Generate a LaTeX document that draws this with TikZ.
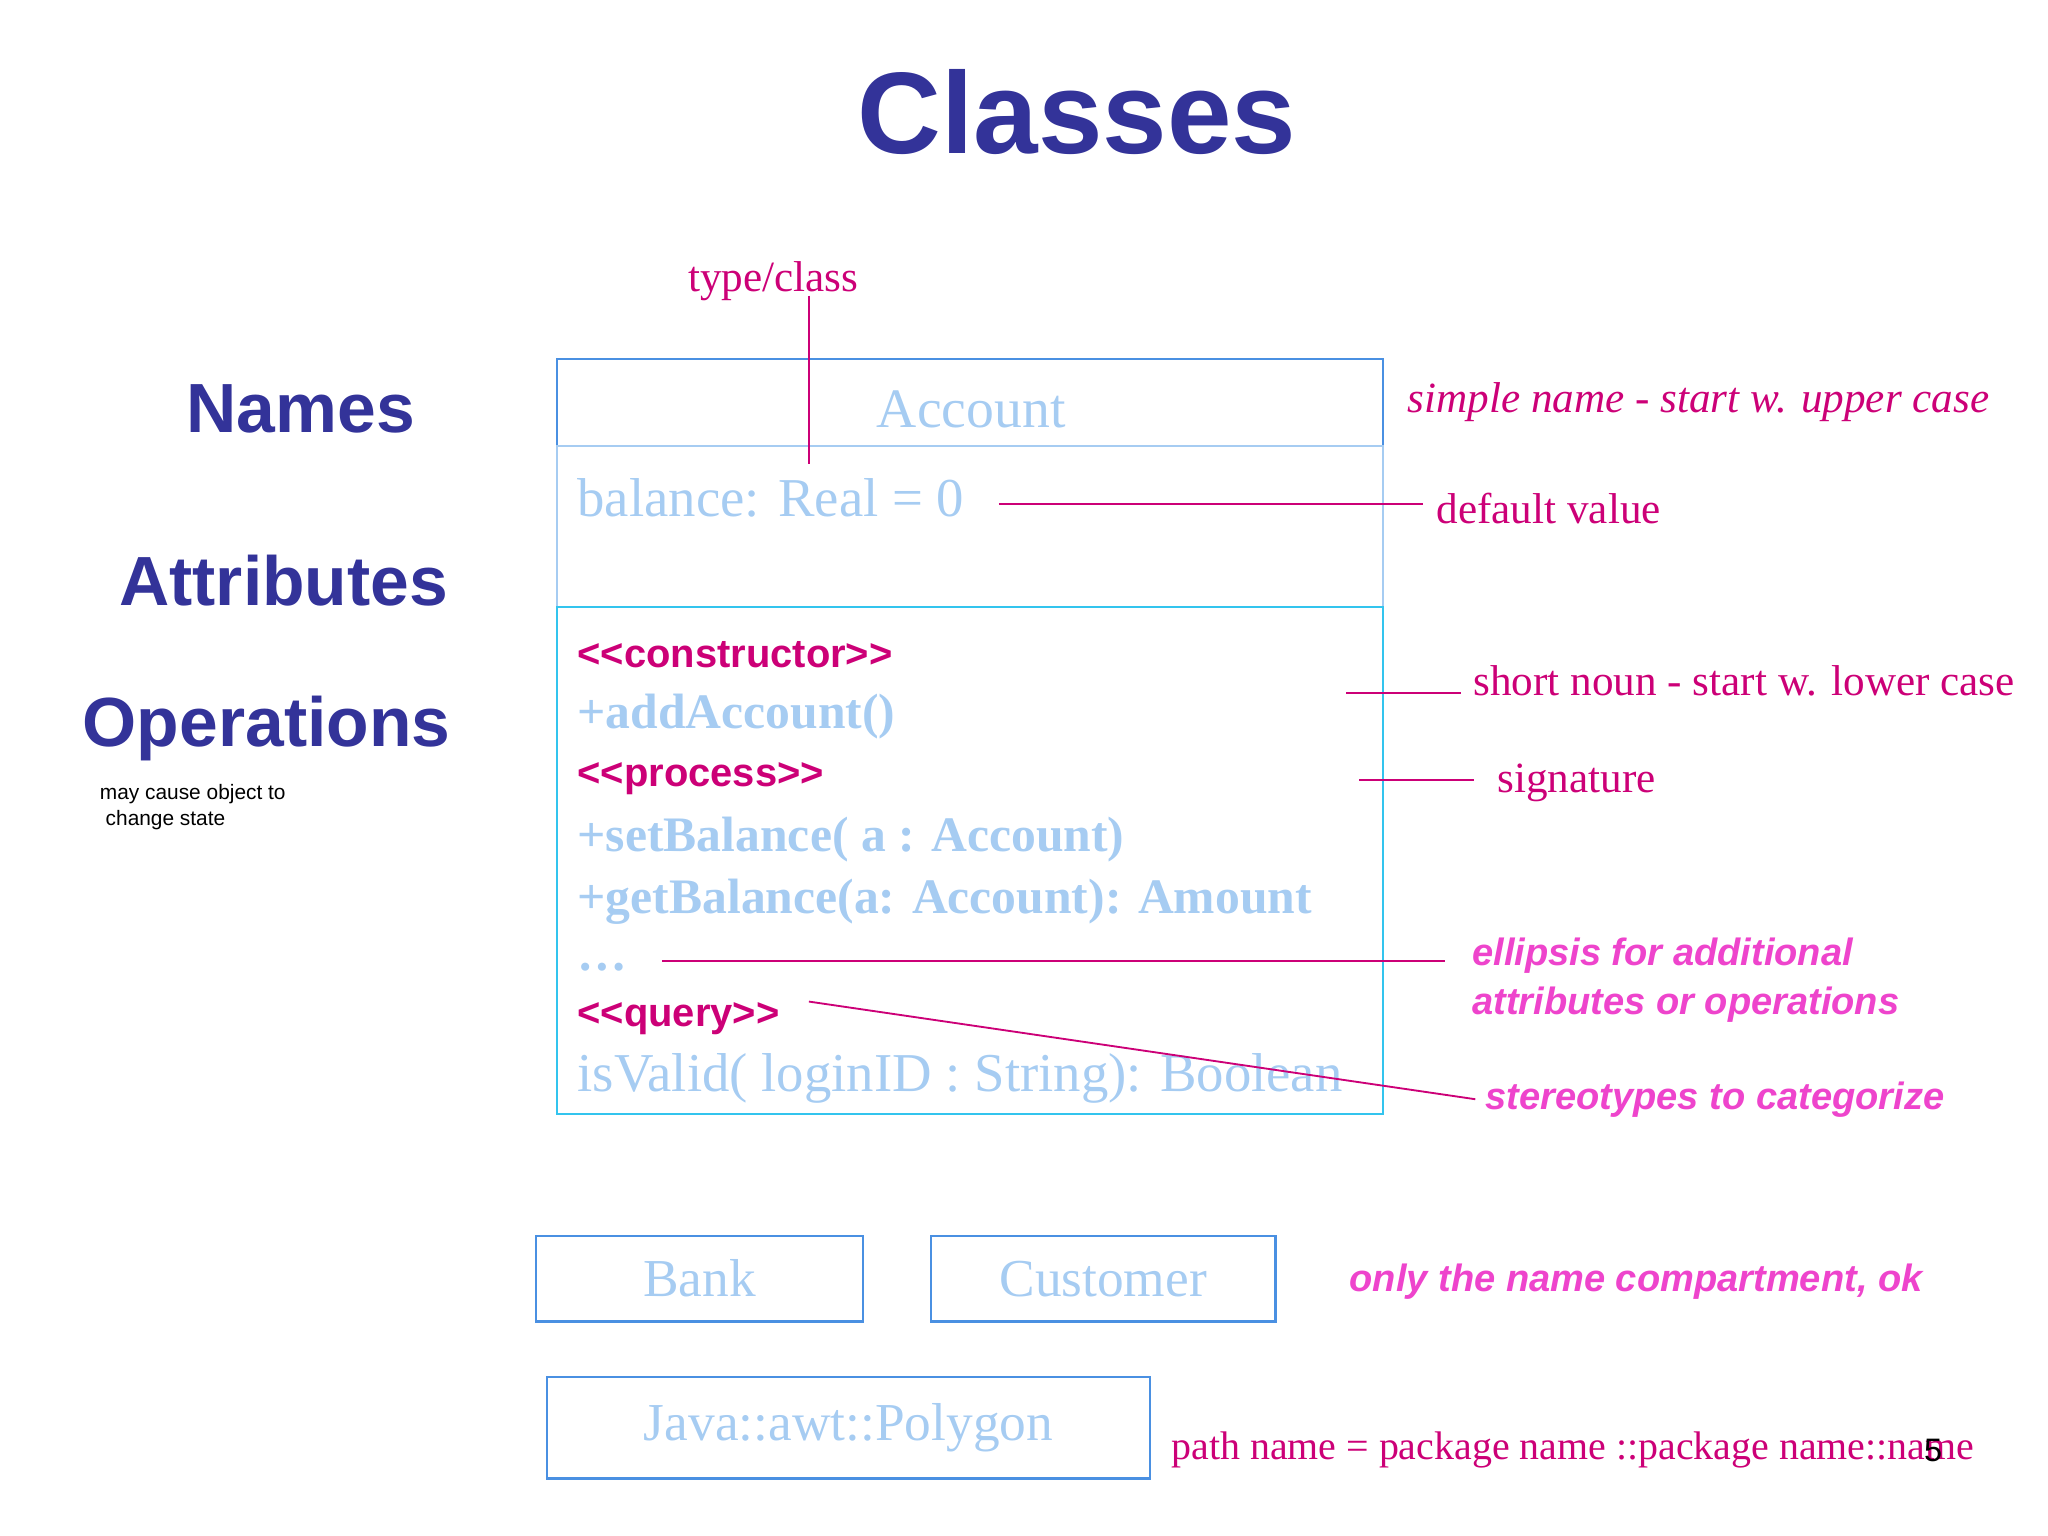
\documentclass[tikz,border=0pt]{standalone}
\usepackage{fontspec}
\setmainfont{Liberation Serif}
\setsansfont{Liberation Sans}
\definecolor{dblue}{HTML}{333399}
\definecolor{mag}{HTML}{CC0077}
\definecolor{lblue}{HTML}{A6CCF2}
\definecolor{bord}{HTML}{4A90E2}
\definecolor{cyanb}{HTML}{33C4EE}
\definecolor{pink}{HTML}{EE44CC}
\newcommand{\ltlt}{{<}{<}}
\newcommand{\gtgt}{{>}{>}}
\tikzset{
 head/.style={font=\sffamily\bfseries\fontsize{15}{18}\selectfont,text=dblue,inner sep=0},
 ann/.style={font=\fontsize{9.3}{11}\selectfont,text=mag,inner sep=0,anchor=west},
 iann/.style={font=\itshape\fontsize{9.3}{11}\selectfont,text=mag,inner sep=0,anchor=west},
 pann/.style={font=\sffamily\bfseries\itshape\fontsize{8.2}{10.5}\selectfont,text=pink,inner sep=0,anchor=west,align=left},
 attr/.style={font=\fontsize{11.8}{13}\selectfont,text=lblue,inner sep=0,anchor=west},
 op/.style={font=\bfseries\fontsize{10.7}{12}\selectfont,text=lblue,inner sep=0,anchor=west},
 ster/.style={font=\sffamily\bfseries\fontsize{8.6}{10}\selectfont,text=mag,inner sep=0,anchor=west},
 ml/.style={mag,line width=0.4pt},
 cbox/.style={draw=bord,line width=0.5pt,inner sep=0,font=\fontsize{11.5}{13}\selectfont,text=lblue},
}
\begin{document}
\begin{tikzpicture}[x=0.01cm,y=-0.01cm]
\useasboundingbox (0,0) rectangle (1552,1164);
\node[font=\sffamily\bfseries\fontsize{25}{30}\selectfont,text=dblue,inner sep=0] (title) at (816,85) {Classes};
\node[head] (hn) at (228,310) {Names};
\node[head] (ha) at (215,440) {Attributes};
\node[head] (ho) at (202,552) {Operations};
\node[font=\sffamily\fontsize{4.5}{5.6}\selectfont,align=left,inner sep=0,anchor=north west] (note) at (75,594) {may cause object to\\\ change state};
% class boxes
\draw[bord,line width=0.5pt] (422,272) rectangle (1048,338);
\draw[lblue,line width=0.5pt] (422,338) rectangle (1048,460);
\draw[cyanb,line width=0.5pt] (422,460) rectangle (1048,844);
\node[font=\fontsize{12}{14}\selectfont,text=lblue,inner sep=0] (acc) at (736,310) {Account};
\node[attr] (bal) at (437,377) {balance: Real = 0};
\node[ster] (s1) at (437,496) {\ltlt constructor\gtgt};
\node[op] (o1) at (437,543) {+addAccount()};
\node[ster] (s2) at (437,590) {\ltlt process\gtgt};
\node[op] (o2) at (437,636) {+setBalance( a : Account)};
\node[op] (o3) at (437,683) {+getBalance(a: Account): Amount};
\node[op] (o4) at (437,733) {\dots};
\node[ster] (s3) at (437,772) {\ltlt query\gtgt};
\node[attr] (o5) at (437,817) {isValid( loginID : String): Boolean};
% annotations
\node[font=\fontsize{9.3}{11}\selectfont,text=mag,inner sep=0] (tc) at (586,213) {type/class};
\coordinate (tct) at (613,224); \coordinate (tcb) at (613,352);
\draw[ml] (tct) -- (tcb);
\node[iann] (sn) at (1066,305) {simple name - start w. upper case};
\node[ann] (dv) at (1088,385) {default value};
\coordinate (dva) at (757,382); \coordinate (dvb) at (1078,382);
\draw[ml] (dva) -- (dvb);
\node[ann] (snn) at (1116,516) {short noun - start w. lower case};
\coordinate (sna) at (1020,525); \coordinate (snb) at (1107,525);
\draw[ml] (sna) -- (snb);
\node[ann] (sig) at (1134,593) {signature};
\coordinate (sga) at (1030,591); \coordinate (sgb) at (1117,591);
\draw[ml] (sga) -- (sgb);
\node[pann] (el) at (1115,743) {ellipsis for additional\\attributes or operations};
\coordinate (ela) at (502,728); \coordinate (elb) at (1095,728);
\draw[ml] (ela) -- (elb);
\node[pann] (st) at (1125,833) {stereotypes to categorize};
\coordinate (sta) at (613,759); \coordinate (stb) at (1118,833);
\draw[ml] (sta) -- (stb);
% small classes
\node[cbox,minimum width=2.48cm,minimum height=0.65cm] (bank) at (530,969) {Bank};
\node[cbox,minimum width=2.61cm,minimum height=0.65cm] (cust) at (836,969) {Customer};
\node[pann] (only) at (1022,971) {only the name compartment, ok};
\node[cbox,minimum width=4.57cm,minimum height=0.77cm] (poly) at (643,1082) {Java::awt::Polygon};
\node[font=\fontsize{8.6}{10}\selectfont,text=mag,inner sep=0,anchor=west] (path) at (887,1099) {path name = package name ::package name::name};
\node[font=\sffamily\fontsize{7}{8}\selectfont,inner sep=0] (pg) at (1465,1099) {5};
\end{tikzpicture}
\end{document}
